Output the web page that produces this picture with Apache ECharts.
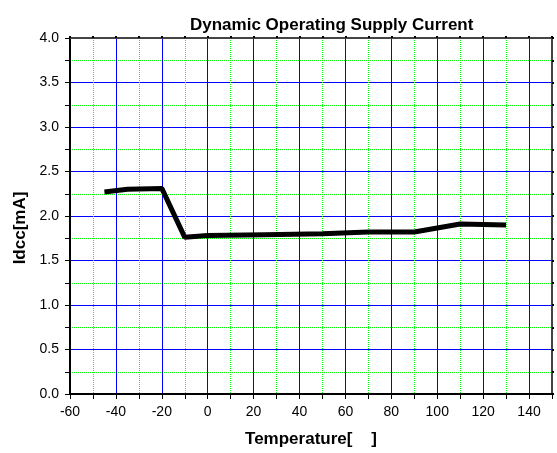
<!DOCTYPE html>
<html>
<head>
<meta charset="utf-8">
<script src="https://cdn.jsdelivr.net/npm/echarts@6/dist/echarts.min.js"></script>
<style>
  html, body { margin: 0; padding: 0; background: #fff; }
  #main { width: 557px; height: 453px; }
</style>
</head>
<body>
<div id="main"></div>
<script>
// temperature (deg C) and supply current (mA)
const temps = [-45, -35, -20, -10, 0, 25, 50, 70, 90, 110, 130];
const idcc = [2.27, 2.30, 2.31, 1.76, 1.78, 1.79, 1.80, 1.82, 1.82, 1.91, 1.90];

const chart = echarts.init(document.getElementById('main'));

const font = 'Arial, "Liberation Sans", sans-serif';
const nameStyle = { fontFamily: font, fontSize: 17, fontWeight: 'bold', color: '#000' };

// top / right frame axes: no labels, just short ticks
function frameAxis(extra) {
    return Object.assign({
        type: 'value',
        axisLine: { show: true, onZero: false, lineStyle: { color: '#444', width: 2 } },
        axisTick: { show: true, length: 2, lineStyle: { color: '#000', width: 2 } },
        minorTick: { show: true, splitNumber: 2, length: 2, lineStyle: { color: '#000', width: 2 } },
        axisLabel: { show: false },
        splitLine: { show: false },
        minorSplitLine: { show: false }
    }, extra);
}

chart.setOption({
    animation: false,
    title: {
        text: 'Dynamic Operating Supply Current',
        left: 185,
        top: 12,
        textStyle: { fontFamily: font, fontSize: 17, fontWeight: 'bold', color: '#000' }
    },
    grid: { left: 70, right: 5, top: 38, bottom: 59 },
    xAxis: [
        {
            type: 'value', min: -60, max: 150, interval: 20,
            name: 'Temperature[    ]', nameLocation: 'middle', nameGap: 37,
            nameTextStyle: nameStyle,
            axisLine: { show: true, onZero: false, lineStyle: { color: '#000', width: 2 } },
            axisTick: { show: true, length: 5, lineStyle: { color: '#000', width: 1 } },
            minorTick: { show: true, splitNumber: 2, length: 5, lineStyle: { color: '#000' } },
            axisLabel: { showMaxLabel: false, margin: 11, fontFamily: font, fontSize: 14, color: '#000' },
            splitLine: { show: true, lineStyle: { color: '#0000ff', width: 1 } },
            minorSplitLine: { show: true, lineStyle: { color: '#00ff00', width: 1, type: 'dotted' } }
        },
        frameAxis({ min: -60, max: 150, interval: 20, position: 'top' })
    ],
    yAxis: [
        {
            type: 'value', min: 0, max: 4, interval: 0.5,
            name: 'Idcc[mA]', nameLocation: 'middle', nameGap: 41,
            nameTextStyle: Object.assign({ padding: [0, 24, 0, 0] }, nameStyle),
            axisLine: { show: true, onZero: false, lineStyle: { color: '#000', width: 2 } },
            axisTick: { show: true, length: 5, lineStyle: { color: '#000', width: 1 } },
            minorTick: { show: true, splitNumber: 2, length: 5, lineStyle: { color: '#000' } },
            axisLabel: { margin: 11, fontFamily: font, fontSize: 14, color: '#000',
                formatter: v => v.toFixed(1) },
            splitLine: { show: true, lineStyle: { color: '#0000ff', width: 1 } },
            minorSplitLine: { show: true, lineStyle: { color: '#00ff00', width: 1, type: 'dotted' } }
        },
        frameAxis({ min: 0, max: 4, interval: 0.5, position: 'right' })
    ],
    series: [
        {
            type: 'line',
            xAxisIndex: 0,
            yAxisIndex: 0,
            data: temps.map((t, i) => [t, idcc[i]]),
            symbol: 'none',
            lineStyle: { color: '#000', width: 5 }
        }
    ]
});
</script>
</body>
</html>
